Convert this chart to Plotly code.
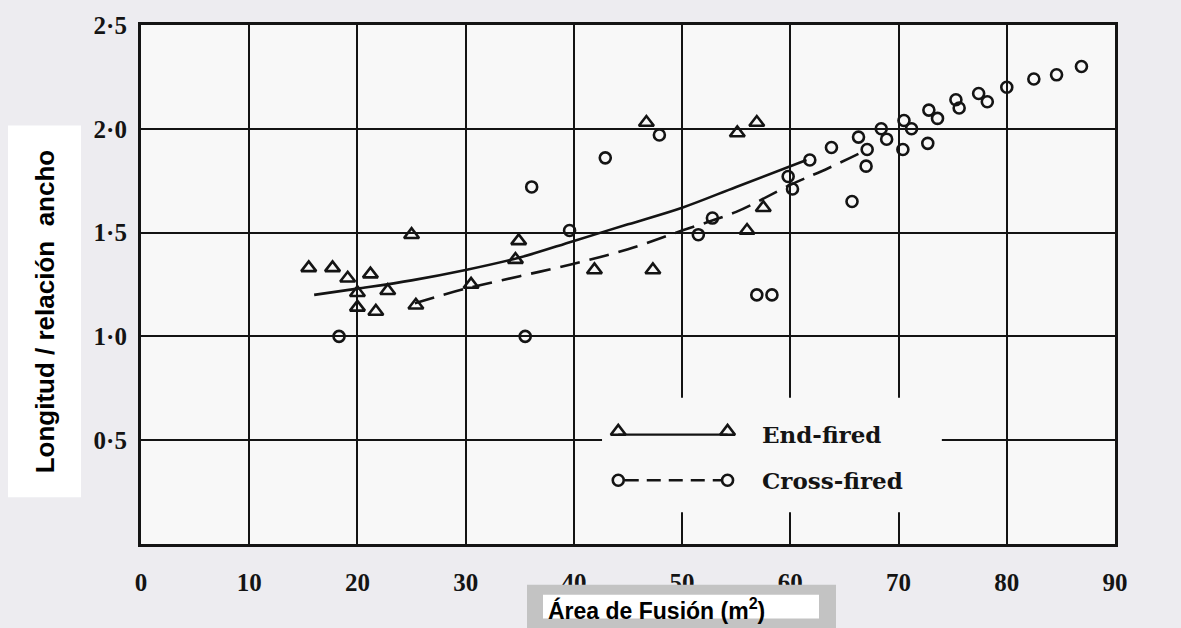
import plotly.graph_objects as go

# ---- data: fusion area (m2) vs length/width ratio ----
end_x = [15.5, 17.7, 19.1, 21.2, 20.0, 22.8, 20.0, 21.7, 25.0, 25.4,
         30.5, 34.9, 34.6, 41.9, 47.3, 46.7, 55.1, 56.9, 57.5, 56.0]
end_y = [1.33, 1.33, 1.28, 1.30, 1.21, 1.22, 1.14, 1.12, 1.49, 1.15,
         1.25, 1.46, 1.37, 1.32, 1.32, 2.03, 1.98, 2.03, 1.62, 1.51]

cross_x = [18.3, 35.5, 36.1, 39.6, 42.9, 47.9, 51.5, 52.8, 56.9, 58.3,
           59.8, 60.2, 61.8, 63.8, 65.7, 66.3, 67.0, 67.1, 68.4, 68.9,
           70.4, 70.5, 71.2, 72.7, 72.8, 73.6, 75.3, 75.6, 77.4, 78.2,
           80.0, 82.5, 84.6, 86.9]
cross_y = [1.00, 1.00, 1.72, 1.51, 1.86, 1.97, 1.49, 1.57, 1.20, 1.20,
           1.77, 1.71, 1.85, 1.91, 1.65, 1.96, 1.82, 1.90, 2.00, 1.95,
           1.90, 2.04, 2.00, 1.93, 2.09, 2.05, 2.14, 2.10, 2.17, 2.13,
           2.20, 2.24, 2.26, 2.30]

# fitted trend curves
end_fit_x = [16.0, 20.0, 25.0, 30.0, 35.0, 40.0, 45.0, 50.0, 55.0, 61.5]
end_fit_y = [1.20, 1.23, 1.27, 1.32, 1.38, 1.46, 1.54, 1.62, 1.72, 1.85]
cross_fit_x = [25.3, 30.0, 35.0, 40.0, 45.0, 50.0, 55.0, 60.0, 63.5, 67.1]
cross_fit_y = [1.16, 1.23, 1.29, 1.35, 1.42, 1.51, 1.60, 1.73, 1.81, 1.90]

x_ticks = [0, 10, 20, 30, 40, 50, 60, 70, 80, 90]
x_tick_text = ["0", "10", "20", "30", "40", "50", "60", "70", "80", "90"]
y_ticks = [0.5, 1.0, 1.5, 2.0, 2.5]
y_tick_text = ["0·5", "1·0", "1·5", "2·0", "2·5"]

series_names = ["End-fired", "Cross-fired"]

# ---- page geometry (pixels) ----
W, H = 1181, 628
PL, PR, PT, PB = 141, 1115, 22, 544


def fx(px):
    return (px - PL) / (PR - PL)


def fy(py):
    return (PB - py) / (PB - PT)


INK = "#141414"
SERIF = "Liberation Serif"

fig = go.Figure()

fig.add_trace(go.Scatter(
    x=end_fit_x, y=end_fit_y, mode="lines", line_shape="spline",
    line=dict(color=INK, width=2.6), showlegend=False, hoverinfo="skip"))
fig.add_trace(go.Scatter(
    x=cross_fit_x, y=cross_fit_y, mode="lines", line_shape="spline",
    line=dict(color=INK, width=2.6, dash="20px,10px"),
    showlegend=False, hoverinfo="skip"))
fig.add_trace(go.Scatter(
    x=end_x, y=end_y, mode="markers", name=series_names[0],
    marker=dict(symbol="triangle-up-open", size=13, color=INK,
                line=dict(width=2.6, color=INK)),
    showlegend=False))
fig.add_trace(go.Scatter(
    x=cross_x, y=cross_y, mode="markers", name=series_names[1],
    marker=dict(symbol="circle-open", size=11, color=INK,
                line=dict(width=2.6, color=INK)),
    showlegend=False))

# ---- hand-drawn style key inside the plot ----
key_x0, key_x1, key_text_x = 44.1, 54.2, 57.2
key_rows = [0.527, 0.307]
shapes = []
shapes.append(dict(type="rect", xref="x", yref="y", x0=42.6, x1=74.0,
                   y0=0.153, y1=0.704, fillcolor="#f8f8f8",
                   line=dict(width=0), layer="between"))
shapes.append(dict(type="line", xref="x", yref="y", x0=key_x0, x1=key_x1,
                   y0=key_rows[0], y1=key_rows[0],
                   line=dict(color=INK, width=2.4), layer="between"))
shapes.append(dict(type="line", xref="x", yref="y", x0=key_x0 + 0.6,
                   x1=key_x1 - 0.6, y0=key_rows[1], y1=key_rows[1],
                   line=dict(color=INK, width=2.4, dash="14px,8px"),
                   layer="between"))
fig.add_trace(go.Scatter(
    x=[key_x0, key_x1], y=[key_rows[0] + 0.015] * 2, mode="markers",
    marker=dict(symbol="triangle-up-open", size=13, color=INK,
                line=dict(width=2.6, color=INK)),
    showlegend=False, hoverinfo="skip"))
fig.add_trace(go.Scatter(
    x=[key_x0, key_x1], y=[key_rows[1]] * 2, mode="markers",
    marker=dict(symbol="circle-open", size=11, color=INK,
                line=dict(width=2.6, color=INK)),
    showlegend=False, hoverinfo="skip"))

annotations = []
for name, row in zip(series_names, key_rows):
    annotations.append(dict(
        x=key_text_x, y=row, xref="x", yref="y", text=name,
        showarrow=False, xanchor="left", yanchor="middle",
        font=dict(family="DejaVu Serif", size=23, color=INK, weight="bold")))

# ---- axis title boxes ----
shapes.append(dict(type="rect", xref="paper", yref="paper",
                   x0=fx(8), x1=fx(81), y0=fy(497), y1=fy(123),
                   fillcolor="white", line=dict(width=0), layer="above"))
shapes.append(dict(type="rect", xref="paper", yref="paper",
                   x0=fx(527), x1=fx(836), y0=fy(640), y1=fy(585),
                   fillcolor="#c3c3c3", line=dict(width=0), layer="above"))
shapes.append(dict(type="rect", xref="paper", yref="paper",
                   x0=fx(543), x1=fx(819), y0=fy(619), y1=fy(595),
                   fillcolor="white", line=dict(width=0), layer="above"))

annotations.append(dict(
    x=fx(45), y=fy(310), xref="paper", yref="paper",
    text="Longitud / relación\u00a0 ancho", textangle=-90, showarrow=False,
    xanchor="center", yanchor="middle",
    font=dict(family="Liberation Sans", size=26, color="black", weight="bold")))
annotations.append(dict(
    x=fx(546), y=fy(609), xref="paper", yref="paper",
    text="Área de Fusión (m<sup>2</sup>)", showarrow=False,
    xanchor="left", yanchor="middle",
    font=dict(family="Liberation Sans", size=23, color="black", weight="bold")))

axis_common = dict(
    showgrid=True, gridcolor=INK, gridwidth=2.2, zeroline=False,
    showline=True, linecolor=INK, linewidth=3.2, mirror=True,
    ticks="outside", tickcolor="rgba(0,0,0,0)",
)

fig.update_layout(
    width=W, height=H,
    margin=dict(l=PL, r=W - PR, t=PT, b=H - PB),
    paper_bgcolor="#edecf0",
    plot_bgcolor="#f8f8f8",
    xaxis=dict(range=[0, 90], tickvals=x_ticks, ticktext=x_tick_text,
               ticklen=14,
               tickfont=dict(family=SERIF, size=25, color=INK, weight="bold"),
               **axis_common),
    yaxis=dict(range=[0, 2.5], tickvals=y_ticks, ticktext=y_tick_text,
               ticklen=6,
               tickfont=dict(family=SERIF, size=25, color=INK, weight="bold"),
               **axis_common),
    shapes=shapes,
    annotations=annotations,
    showlegend=False,
)

fig.write_html("out.html")
